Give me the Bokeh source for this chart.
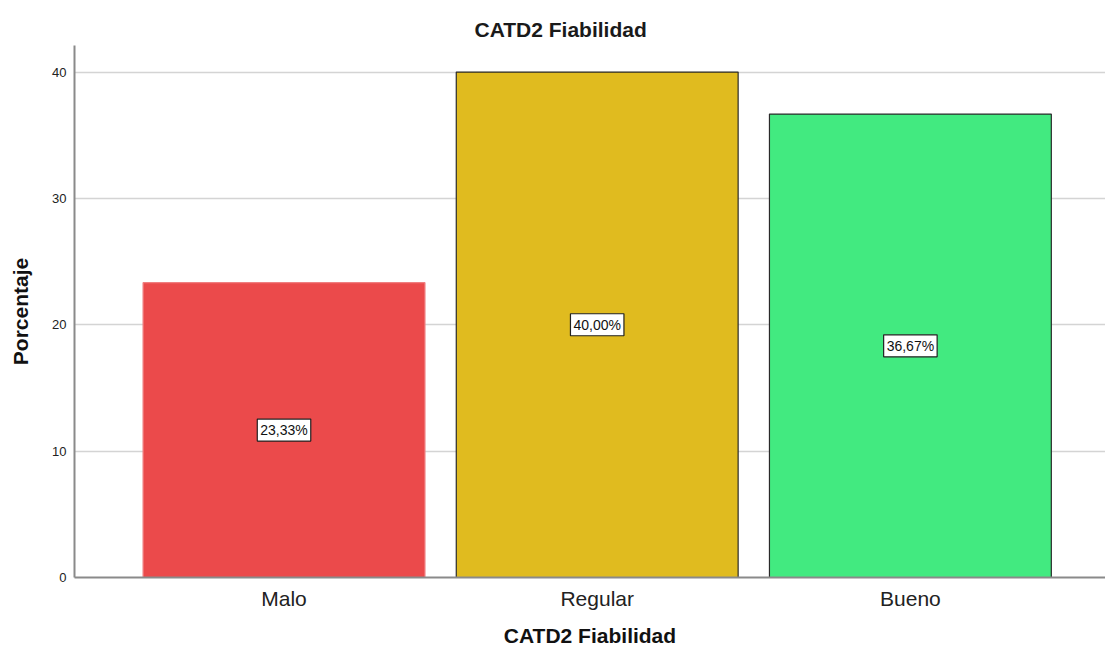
from bokeh.plotting import figure
from bokeh.models import ColumnDataSource, Range1d, FixedTicker, Title
from bokeh.core.properties import value
from bokeh.embed import file_html
from bokeh.resources import INLINE

categories = ["Malo", "Regular", "Bueno"]
percentages = [23.33, 40.00, 36.67]
label_texts = ["23,33%", "40,00%", "36,67%"]
y_ticks = [0, 10, 20, 30, 40]

fill_colors = ["#EB4A4B", "#E0BB1F", "#42EA80"]
line_colors = ["#F07F80", "#2a2a2a", "#2a2a2a"]

xs = list(range(len(categories)))
src = ColumnDataSource(dict(
    x=xs,
    top=percentages,
    mid=[v / 2 for v in percentages],
    txt=label_texts,
    fill=fill_colors,
    line=line_colors,
))

FONT = "Liberation Sans"

p = figure(width=1105, height=651, output_backend="svg", toolbar_location=None,
           x_range=Range1d(-0.669, 2.623), y_range=Range1d(0, 42.1),
           min_border_left=74, min_border_right=0, min_border_top=45, min_border_bottom=74)
p.title = Title(text="CATD2 Fiabilidad", align="left", offset=400,
                text_font=FONT, text_font_size="21px", text_font_style="bold",
                text_color="#1a1a1a", standoff=10)

p.vbar(x="x", top="top", width=0.9, bottom=0, source=src,
       fill_color="fill", line_color="line", line_width=1.2)

p.text(x="x", y="mid", text="txt", source=src,
       text_align="center", text_baseline="middle",
       text_font=value(FONT), text_font_size=value("14px"), text_color="#111111",
       background_fill_color="white", border_line_color="#222222",
       border_line_width=1.2, padding=3)

p.outline_line_color = None
p.xgrid.grid_line_color = None
p.ygrid.grid_line_color = "#d4d4d4"
p.ygrid.grid_line_width = 1.5
p.ygrid.level = "underlay"

p.xaxis.ticker = FixedTicker(ticks=xs)
p.xaxis.major_label_overrides = {i: c for i, c in zip(xs, categories)}
p.yaxis.ticker = FixedTicker(ticks=y_ticks)

for ax in (p.xaxis[0], p.yaxis[0]):
    ax.axis_line_color = "#8a8a8a"
    ax.axis_line_width = 2
    ax.major_tick_line_color = None
    ax.minor_tick_line_color = None
    ax.major_tick_out = 0
    ax.major_tick_in = 0
    ax.minor_tick_out = 0
    ax.major_label_text_font = FONT
    ax.major_label_text_color = "#222222"
    ax.axis_label_text_font = FONT
    ax.axis_label_text_font_style = "bold"
    ax.axis_label_text_font_size = "21px"
    ax.axis_label_text_color = "#111111"

p.xaxis.major_label_text_font_size = "21px"
p.xaxis.major_label_standoff = 9
p.xaxis.axis_label = "CATD2 Fiabilidad"
p.xaxis.axis_label_standoff = 11

p.yaxis.major_label_text_font_size = "13px"
p.yaxis.major_label_standoff = 8
p.yaxis.axis_label = "Porcentaje"
p.yaxis.axis_label_standoff = 17

open("out.html", "w").write(file_html(p, INLINE))
